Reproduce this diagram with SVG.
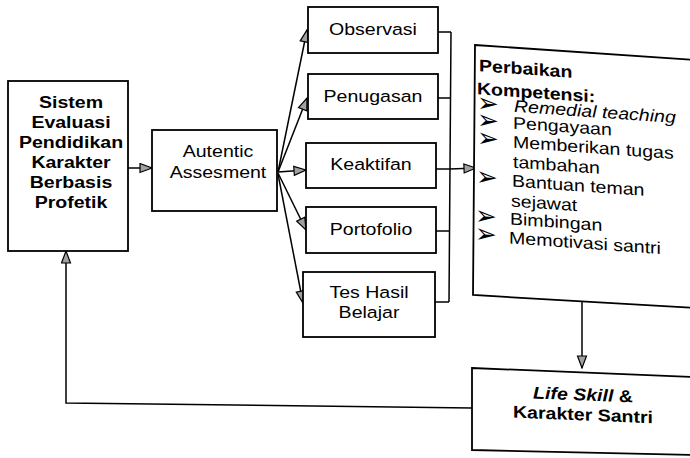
<svg xmlns="http://www.w3.org/2000/svg" width="690" height="458" viewBox="0 0 690 458">
  <style>
    .box { fill: #fff; stroke: #000; stroke-width: 1.8; }
    .ln { fill: none; stroke: #000; stroke-width: 1.5; }
    .t { font-family: "Liberation Sans", Arial, sans-serif; font-size: 17px; fill: #000; }
    .c { text-anchor: middle; }
    .b { font-weight: bold; }
    .i { font-style: italic; }
    .bul { font-family: "DejaVu Sans", sans-serif; font-size: 26px; fill: #000; }
  </style>
  <defs>
    <marker id="ah" markerWidth="14" markerHeight="12" refX="13" refY="5.5" orient="auto" markerUnits="userSpaceOnUse">
      <path d="M1,1 L13,5.5 L1,10 z" fill="#a0a0a0" stroke="#000" stroke-width="1.2" stroke-linejoin="miter"/>
    </marker>
  </defs>

  <rect width="690" height="458" fill="#fff"/>

  <!-- connectors -->
  <g id="connectors">
    <path class="ln" d="M128,168 L152,168" marker-end="url(#ah)"/>
    <!-- fan from Autentic Assesment -->
    <path class="ln" d="M278,172 L307,30" marker-end="url(#ah)"/>
    <path class="ln" d="M278,172 L307,98" marker-end="url(#ah)"/>
    <path class="ln" d="M278,172 L306,170" marker-end="url(#ah)"/>
    <path class="ln" d="M278,173 L306,230" marker-end="url(#ah)"/>
    <path class="ln" d="M278,174 L303,303" marker-end="url(#ah)"/>
    <!-- bracket collecting the five methods -->
    <path class="ln" d="M438,32 L451,32 M438,98 L451,98 M436,169 L450,169 M436,231 L450,231 M435,302 L449,302 M451,32 L449,302"/>
    <path class="ln" d="M450,169 L476,168" marker-end="url(#ah)"/>
    <!-- Perbaikan -> Life Skill -->
    <path class="ln" d="M582,302 L582,368" marker-end="url(#ah)"/>
    <!-- feedback loop -->
    <path class="ln" d="M472,408 L66,403 L66,251" marker-end="url(#ah)"/>
  </g>

  <g id="sistem">
    <rect class="box" x="8" y="81" width="120" height="170"/>
    <text class="t c b" transform="translate(71,108) scale(1.15,1)">Sistem</text>
    <text class="t c b" transform="translate(71,128) scale(1.15,1)">Evaluasi</text>
    <text class="t c b" transform="translate(71,148) scale(1.15,1)">Pendidikan</text>
    <text class="t c b" transform="translate(71,168) scale(1.15,1)">Karakter</text>
    <text class="t c b" transform="translate(71,188) scale(1.15,1)">Berbasis</text>
    <text class="t c b" transform="translate(71,208) scale(1.15,1)">Profetik</text>
  </g>

  <g id="autentic">
    <rect class="box" x="152" y="130" width="125" height="81"/>
    <text class="t c" transform="translate(218,157) scale(1.15,1)">Autentic</text>
    <text class="t c" transform="translate(218,178) scale(1.15,1)">Assesment</text>
  </g>

  <g id="observasi">
    <rect class="box" x="308" y="7" width="130" height="46"/>
    <text class="t c" transform="translate(373,35) scale(1.15,1)">Observasi</text>
  </g>

  <g id="penugasan">
    <rect class="box" x="308" y="74" width="130" height="45"/>
    <text class="t c" transform="translate(373,102) scale(1.15,1)">Penugasan</text>
  </g>

  <g id="keaktifan">
    <rect class="box" x="306" y="143" width="130" height="45"/>
    <text class="t c" transform="translate(371,170) scale(1.15,1)">Keaktifan</text>
  </g>

  <g id="portofolio">
    <rect class="box" x="306" y="207" width="130" height="46"/>
    <text class="t c" transform="translate(371,235) scale(1.15,1)">Portofolio</text>
  </g>

  <g id="tes-hasil">
    <rect class="box" x="303" y="272" width="132" height="65"/>
    <text class="t c" transform="translate(369,298) scale(1.15,1)">Tes Hasil</text>
    <text class="t c" transform="translate(369,318) scale(1.15,1)">Belajar</text>
  </g>

  <g id="perbaikan">
    <polygon class="box" points="475,45 695,60 695,308 473,295"/>
    <g transform="matrix(1,0.07,0,1,0,-33.25)">
      <text class="t b" transform="translate(479,71) scale(1.15,1)">Perbaikan</text>
      <text class="t b" transform="translate(477,94) scale(1.15,1)">Kompetensi:</text>
      <text class="bul" x="477" y="111">➢</text>
      <text class="t i" transform="translate(514,109) scale(1.15,1)">Remedial teaching</text>
      <text class="bul" x="477" y="128">➢</text>
      <text class="t" transform="translate(513,126) scale(1.15,1)">Pengayaan</text>
      <text class="bul" x="477" y="146">➢</text>
      <text class="t" transform="translate(513,145) scale(1.15,1)">Memberikan tugas</text>
      <text class="t" transform="translate(513,165) scale(1.15,1)">tambahan</text>
      <text class="bul" x="476" y="185">➢</text>
      <text class="t" transform="translate(512,184) scale(1.15,1)">Bantuan teman</text>
      <text class="t" transform="translate(511,204) scale(1.15,1)">sejawat</text>
      <text class="bul" x="475" y="224">➢</text>
      <text class="t" transform="translate(510,222) scale(1.15,1)">Bimbingan</text>
      <text class="bul" x="475" y="242">➢</text>
      <text class="t" transform="translate(509,241) scale(1.15,1)">Memotivasi santri</text>
    </g>
  </g>

  <g id="life-skill">
    <polygon class="box" points="472,368 695,377 695,455 472,450"/>
    <g transform="matrix(1,0.04,0,1,0,-18.9)">
      <text class="t c b" transform="translate(583,396) scale(1.15,1)"><tspan class="i">Life Skill</tspan> &amp;</text>
      <text class="t c b" transform="translate(583,416) scale(1.15,1)">Karakter Santri</text>
    </g>
  </g>
</svg>
